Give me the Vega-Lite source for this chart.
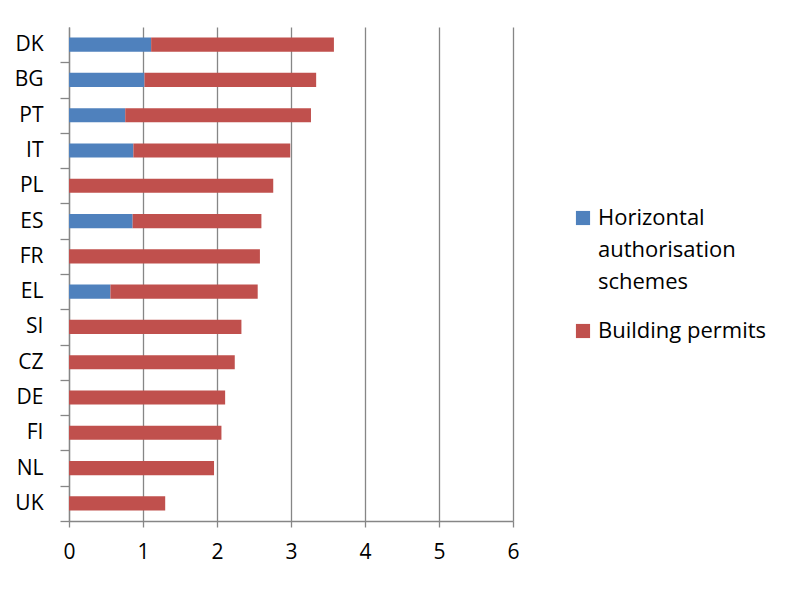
{
  "$schema": "https://vega.github.io/schema/vega-lite/v6.json",
  "width": 444,
  "height": 494,
  "autosize": {"type": "none"},
  "padding": {"left": 69, "top": 27, "right": 277, "bottom": 74},
  "background": "white",
  "config": {
    "view": {"stroke": null},
    "font": "Open Sans",
    "style": {"guide-label": {"lineHeight": 32}},
    "axis": {"labelFont": "Open Sans", "labelColor": "black", "labelFontSize": 21, "domainColor": "#868686", "tickColor": "#868686", "domainWidth": 1.3, "tickWidth": 1.3, "gridColor": "#868686", "gridWidth": 1.3},
    "legend": {"labelFont": "Open Sans", "labelFontSize": 22, "labelColor": "black"}
  },
  "data": {"values": [
    {"country": "DK", "series": "Horizontal authorisation schemes", "value": 1.11},
    {"country": "DK", "series": "Building permits", "value": 2.47},
    {"country": "BG", "series": "Horizontal authorisation schemes", "value": 1.02},
    {"country": "BG", "series": "Building permits", "value": 2.32},
    {"country": "PT", "series": "Horizontal authorisation schemes", "value": 0.76},
    {"country": "PT", "series": "Building permits", "value": 2.51},
    {"country": "IT", "series": "Horizontal authorisation schemes", "value": 0.87},
    {"country": "IT", "series": "Building permits", "value": 2.12},
    {"country": "PL", "series": "Building permits", "value": 2.76},
    {"country": "ES", "series": "Horizontal authorisation schemes", "value": 0.86},
    {"country": "ES", "series": "Building permits", "value": 1.74},
    {"country": "FR", "series": "Building permits", "value": 2.58},
    {"country": "EL", "series": "Horizontal authorisation schemes", "value": 0.56},
    {"country": "EL", "series": "Building permits", "value": 1.99},
    {"country": "SI", "series": "Building permits", "value": 2.33},
    {"country": "CZ", "series": "Building permits", "value": 2.24},
    {"country": "DE", "series": "Building permits", "value": 2.11},
    {"country": "FI", "series": "Building permits", "value": 2.06},
    {"country": "NL", "series": "Building permits", "value": 1.96},
    {"country": "UK", "series": "Building permits", "value": 1.30}
  ]},
  "mark": {"type": "bar"},
  "encoding": {
    "y": {
      "field": "country", "type": "nominal",
      "sort": ["DK","BG","PT","IT","PL","ES","FR","EL","SI","CZ","DE","FI","NL","UK"],
      "scale": {"paddingInner": 0.6, "paddingOuter": 0.3},
      "axis": {"title": null, "tickOffset": 17.64, "labelOffset": -17.64, "tickSize": 9, "labelPadding": 17, "grid": false}
    },
    "x": {
      "field": "value", "type": "quantitative", "stack": "zero",
      "scale": {"domain": [0, 6], "nice": false},
      "axis": {"title": null, "values": [0,1,2,3,4,5,6], "tickSize": 6, "labelPadding": 14, "grid": true, "labelFlush": false}
    },
    "color": {
      "field": "series", "type": "nominal",
      "scale": {"domain": ["Horizontal authorisation schemes", "Building permits"], "range": ["#4F81BD", "#C0504D"]},
      "legend": {
        "title": null, "orient": "none", "legendX": 503, "legendY": 180,
        "symbolType": "square", "symbolSize": 200, "symbolStrokeWidth": 0, "symbolOpacity": 1,
        "labelOffset": 4, "rowPadding": 27, "labelLimit": 300,
        "labelExpr": "datum.label == 'Horizontal authorisation schemes' ? ['Horizontal','authorisation','schemes'] : datum.label"
      }
    },
    "order": {"field": "series", "sort": "descending"}
  }
}
